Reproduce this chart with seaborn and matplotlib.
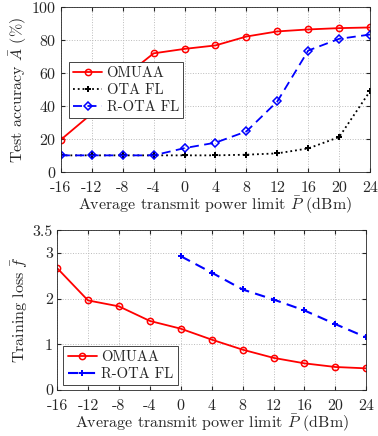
import numpy as np
import pandas as pd
import matplotlib
matplotlib.use("Agg")
import matplotlib.pyplot as plt
import seaborn as sns

power = [-16, -12, -8, -4, 0, 4, 8, 12, 16, 20, 24]
acc_omuaa = [19.6, 35.4, 57.0, 72.0, 74.7, 76.8, 82.2, 85.3, 86.5, 87.3, 87.7]
acc_ota = [10.1, 10.1, 10.1, 10.1, 10.1, 10.1, 10.5, 11.3, 14.3, 21.2, 49.1]
acc_rota = [10.1, 10.1, 10.1, 10.1, 14.5, 17.8, 24.6, 42.8, 73.7, 80.8, 83.4]

loss_omuaa = [2.67, 1.96, 1.83, 1.51, 1.34, 1.10, 0.88, 0.70, 0.58, 0.50, 0.47]
power_rota = [0, 4, 8, 12, 16, 20, 24]
loss_rota = [2.93, 2.57, 2.20, 1.98, 1.74, 1.44, 1.15]

sns.set_style("ticks")
plt.rcParams["font.family"] = ["cmr10", "DejaVu Serif"]
plt.rcParams["mathtext.fontset"] = "cm"
plt.rcParams["axes.unicode_minus"] = False
plt.rcParams["axes.formatter.use_mathtext"] = True

fig = plt.figure(figsize=(3.78, 4.36), dpi=100)
ax1 = fig.add_axes([0.161, 0.6055, 0.818, 0.378])
ax2 = fig.add_axes([0.151, 0.106, 0.818, 0.366])

common_red = dict(color="#ff0000", marker="o", markersize=4.5, markerfacecolor="none",
                  markeredgecolor="#ff0000", markeredgewidth=1.1, linewidth=1.3)

sns.lineplot(x=power, y=acc_omuaa, ax=ax1, label="OMUAA", **common_red)
sns.lineplot(x=power, y=acc_ota, ax=ax1, color="black", marker="P", markersize=4,
             linestyle=":", linewidth=1.3, markeredgewidth=0, label="OTA FL")
sns.lineplot(x=power, y=acc_rota, ax=ax1, color="#0000ff", marker="D", markersize=4,
             markerfacecolor="none", markeredgecolor="#0000ff", markeredgewidth=1.1,
             linestyle=(0, (5, 3)), linewidth=1.3, label="R-OTA FL")

sns.lineplot(x=power, y=loss_omuaa, ax=ax2, label="OMUAA", **common_red)
sns.lineplot(x=power_rota, y=loss_rota, ax=ax2, color="#0000ff", marker="P", markersize=4,
             markeredgewidth=0, linestyle=(0, (5, 3)), linewidth=1.5, label="R-OTA FL")

for ax in (ax1, ax2):
    ax.set_xlim(-16, 24)
    ax.set_xticks(power)
    ax.set_xticklabels([str(p) for p in power])
    ax.grid(True, linestyle=":", color="#bbbbbb", linewidth=0.7)
    ax.tick_params(direction="in", length=3, labelsize=11.5, colors="#262626",
                   top=True, right=True)
    ax.tick_params(axis="x", pad=6.5)
    ax.tick_params(axis="y", pad=3)
    for s in ax.spines.values():
        s.set_color("#262626")
        s.set_linewidth(0.6)
    ax.set_xlabel(r"Average transmit power limit $\bar{P}$ (dBm)", fontsize=11.5,
                  color="#262626", labelpad=0)

ax1.set_ylim(0, 100)
ax1.set_yticks([0, 20, 40, 60, 80, 100])
ax1.set_ylabel(r"Test accuracy $\bar{A}$ (%)", fontsize=11.5, color="#262626", labelpad=2)
ax2.set_ylim(0, 3.5)
ax2.set_yticks([0, 1, 2, 3, 3.5])
ax2.set_yticklabels(["0", "1", "2", "3", "3.5"])
ax2.set_ylabel(r"Training loss $\bar{f}$", fontsize=11.5, color="#262626", labelpad=2)

legkw = dict(fontsize=10.5, frameon=True, fancybox=False, edgecolor="#262626", framealpha=1,
             handlelength=2.0, handletextpad=0.3, borderpad=0.3, labelspacing=0.2,
             borderaxespad=0)
leg1 = ax1.legend(loc="upper left", bbox_to_anchor=(0.025, 0.665), **legkw)
leg1.get_frame().set_linewidth(0.6)
leg2 = ax2.legend(loc="lower left", bbox_to_anchor=(0.02, 0.03), **legkw)
leg2.get_frame().set_linewidth(0.6)

fig.savefig("out.png", dpi=100)
